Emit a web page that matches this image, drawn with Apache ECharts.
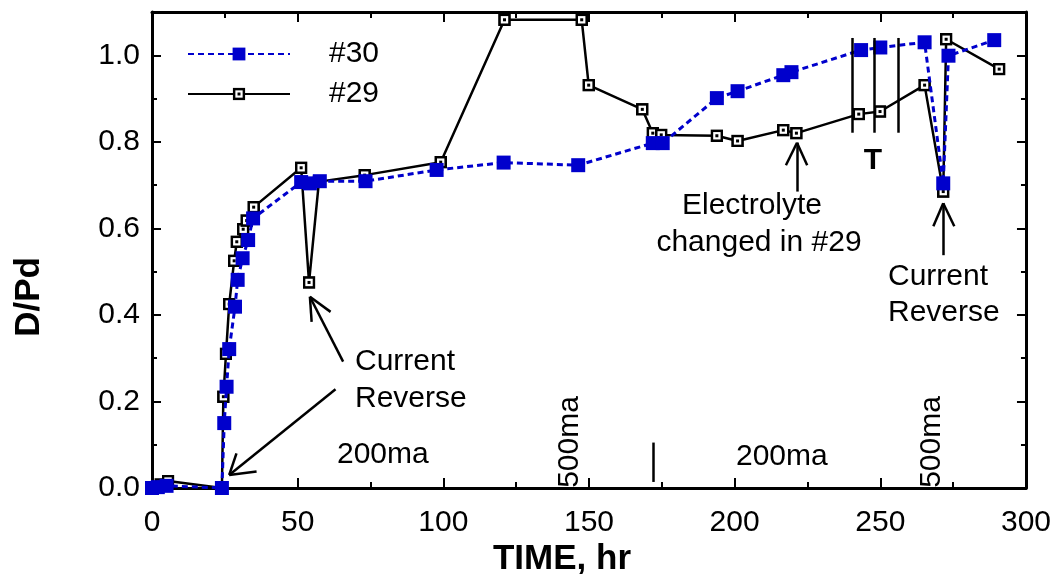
<!DOCTYPE html>
<html>
<head>
<meta charset="utf-8">
<script src="https://cdn.jsdelivr.net/npm/echarts@6/dist/echarts.min.js"></script>
<style>
  html, body { margin: 0; padding: 0; background: #fff; }
  #chart { width: 1054px; height: 574px; }
</style>
</head>
<body>
<div id="chart"></div>
<script>
// cell #30 (filled squares, dotted blue)
const hours30 = [0, 2, 5, 24, 24.8, 25.6, 26.5, 28.5, 29.4, 31.1, 33.0, 34.7, 51.2, 54.2, 57.6, 73.3, 97.7, 120.7, 146.3, 171.9, 175.3, 193.9, 201, 216.7, 219.5, 243.4, 250, 265.2, 271.6, 273.4, 289.1];
const dpd30 = [0, 0.002, 0.005, 0, 0.15, 0.234, 0.321, 0.419, 0.481, 0.531, 0.573, 0.623, 0.707, 0.704, 0.709, 0.709, 0.735, 0.752, 0.746, 0.797, 0.797, 0.901, 0.917, 0.954, 0.961, 1.012, 1.018, 1.03, 0.704, 0.999, 1.035];

// cell #29 (open squares, solid black)
const hours29 = [0, 3, 5.5, 24, 24.5, 25.4, 26.5, 28.2, 29.1, 31.3, 32.5, 34.9, 51.2, 53.9, 57.3, 73.0, 99.1, 121.0, 147.5, 149.9, 168.3, 171.9, 174.8, 193.9, 201, 216.7, 221.2, 242.6, 249.9, 265.2, 271.6, 272.6, 290.8];
const dpd29 = [0, 0.008, 0.016, 0, 0.211, 0.31, 0.425, 0.525, 0.569, 0.598, 0.618, 0.649, 0.74, 0.475, 0.708, 0.723, 0.753, 1.082, 1.082, 0.931, 0.875, 0.82, 0.816, 0.814, 0.802, 0.827, 0.82, 0.864, 0.87, 0.931, 0.685, 1.037, 0.968];

const xTicks = [0, 300, 50];     // min, max, step
const yTicks = [0, 1.1, 0.2];

const FONT = "'Liberation Sans', Arial, sans-serif";

const openSquare = 'image://data:image/svg+xml;charset=utf-8,' + encodeURIComponent(
  "<svg xmlns='http://www.w3.org/2000/svg' width='26' height='26' viewBox='0 0 13 13'>" +
  "<rect x='1.5' y='1.5' width='10' height='10' fill='white' stroke='black' stroke-width='2.6'/>" +
  "<rect x='5' y='5' width='3' height='3' fill='black'/></svg>");

const pair = (a, b) => a.map((v, i) => [v, b[i]]);
const seg = (x1, y1, x2, y2) => [{ coord: [x1, y1] }, { coord: [x2, y2] }];

const chart = echarts.init(document.getElementById('chart'));

const baseX = {
  type: 'value', min: xTicks[0], max: xTicks[1], interval: xTicks[2],
  axisLine: { onZero: false, lineStyle: { color: '#000', width: 3 } },
  axisTick: { inside: true, length: 10, lineStyle: { color: '#000', width: 2 } },
  minorTick: { show: true, splitNumber: 2, length: 6, lineStyle: { color: '#000', width: 2 } },
  splitLine: { show: false }
};
const baseY = {
  type: 'value', min: yTicks[0], max: yTicks[1], interval: yTicks[2],
  axisLine: { onZero: false, lineStyle: { color: '#000', width: 3 } },
  axisTick: { inside: true, length: 9, lineStyle: { color: '#000', width: 2 } },
  minorTick: { show: true, splitNumber: 2, length: 5, lineStyle: { color: '#000', width: 2 } },
  splitLine: { show: false }
};

const option = {
  animation: false,
  backgroundColor: '#fff',
  grid: { left: 152, right: 27, top: 12, bottom: 86 },
  legend: {
    data: ['#30', '#29'],
    orient: 'vertical',
    left: 182, top: 34,
    itemWidth: 102, itemHeight: 16, itemGap: 10,
    textStyle: { fontFamily: FONT, fontSize: 30, color: '#000', lineHeight: 30, padding: [0, 0, 0, 34] }
  },
  xAxis: [
    Object.assign({}, baseX, {
      position: 'bottom',
      axisLabel: { fontFamily: FONT, fontSize: 30, color: '#000', margin: 20 }
    }),
    Object.assign({}, baseX, { position: 'top', axisLabel: { show: false } })
  ],
  yAxis: [
    Object.assign({}, baseY, {
      position: 'left',
      axisLabel: {
        fontFamily: FONT, fontSize: 30, color: '#000', margin: 12,
        showMaxLabel: false, padding: [14, 0, 0, 0],
        formatter: v => v.toFixed(1)
      }
    }),
    Object.assign({}, baseY, { position: 'right', axisLabel: { show: false } })
  ],
  series: [
    {
      name: '#29', type: 'line',
      data: pair(hours29, dpd29),
      symbol: openSquare, symbolSize: 13,
      lineStyle: { color: '#000', width: 2.5 },
      itemStyle: { color: '#000' },
      z: 2,
      markLine: {
        silent: true, symbol: 'none', animation: false,
        label: { show: false },
        lineStyle: { color: '#000', width: 2.5, type: 'solid' },
        data: [
          // arrow to reversal at ~54 hr
          seg(65.6, 0.292, 54.2, 0.442), seg(54.2, 0.442, 54.8, 0.384), seg(54.2, 0.442, 61.3, 0.407),
          // arrow to start at 24 hr
          seg(63.0, 0.228, 26.5, 0.030), seg(26.5, 0.030, 29.0, 0.080), seg(26.5, 0.030, 35.9, 0.038),
          // electrolyte change arrow
          seg(221.4, 0.685, 221.4, 0.798), seg(221.4, 0.798, 217.6, 0.746), seg(221.4, 0.798, 224.9, 0.746),
          // second reversal arrow
          seg(271.6, 0.538, 271.6, 0.658), seg(271.6, 0.658, 268.2, 0.605), seg(271.6, 0.658, 275.4, 0.605),
          // T marks
          seg(240.5, 0.821, 240.5, 1.04), seg(248, 0.821, 248, 1.04), seg(256.2, 0.821, 256.2, 1.04),
          // current change marker
          seg(171.9, 0.014, 171.9, 0.105)
        ]
      }
    },
    {
      name: '#30', type: 'line',
      data: pair(hours30, dpd30),
      symbol: 'rect', symbolSize: 14,
      lineStyle: { color: '#0000cc', width: 3, type: [6, 4] },
      itemStyle: { color: '#0000cc' },
      z: 3
    }
  ],
  graphic: [
    { type: 'text', x: 355, y: 362, style: { text: 'Current', font: '30px ' + FONT, fill: '#000', align: 'left', verticalAlign: 'middle' } },
    { type: 'text', x: 355, y: 399, style: { text: 'Reverse', font: '30px ' + FONT, fill: '#000', align: 'left', verticalAlign: 'middle' } },
    { type: 'text', x: 337, y: 455, style: { text: '200ma', font: '30px ' + FONT, fill: '#000', align: 'left', verticalAlign: 'middle' } },
    { type: 'text', x: 736, y: 457, style: { text: '200ma', font: '30px ' + FONT, fill: '#000', align: 'left', verticalAlign: 'middle' } },
    { type: 'text', x: 570, y: 442, rotation: Math.PI / 2, style: { text: '500ma', font: '30px ' + FONT, fill: '#000', align: 'center', verticalAlign: 'middle' } },
    { type: 'text', x: 932, y: 442, rotation: Math.PI / 2, style: { text: '500ma', font: '30px ' + FONT, fill: '#000', align: 'center', verticalAlign: 'middle' } },
    { type: 'text', x: 752, y: 206, style: { text: 'Electrolyte', font: '30px ' + FONT, fill: '#000', align: 'center', verticalAlign: 'middle' } },
    { type: 'text', x: 759, y: 243, style: { text: 'changed in #29', font: '30px ' + FONT, fill: '#000', align: 'center', verticalAlign: 'middle' } },
    { type: 'text', x: 888, y: 277, style: { text: 'Current', font: '30px ' + FONT, fill: '#000', align: 'left', verticalAlign: 'middle' } },
    { type: 'text', x: 888, y: 313, style: { text: 'Reverse', font: '30px ' + FONT, fill: '#000', align: 'left', verticalAlign: 'middle' } },
    { type: 'text', x: 873, y: 161, style: { text: 'T', font: 'bold 30px ' + FONT, fill: '#000', align: 'center', verticalAlign: 'middle' } },
    { type: 'text', x: 562, y: 559, style: { text: 'TIME, hr', font: 'bold 35px ' + FONT, fill: '#000', align: 'center', verticalAlign: 'middle' } },
    { type: 'text', x: 29, y: 297, rotation: Math.PI / 2, style: { text: 'D/Pd', font: 'bold 35px ' + FONT, fill: '#000', align: 'center', verticalAlign: 'middle' } }
  ]
};

chart.setOption(option);
</script>
</body>
</html>
